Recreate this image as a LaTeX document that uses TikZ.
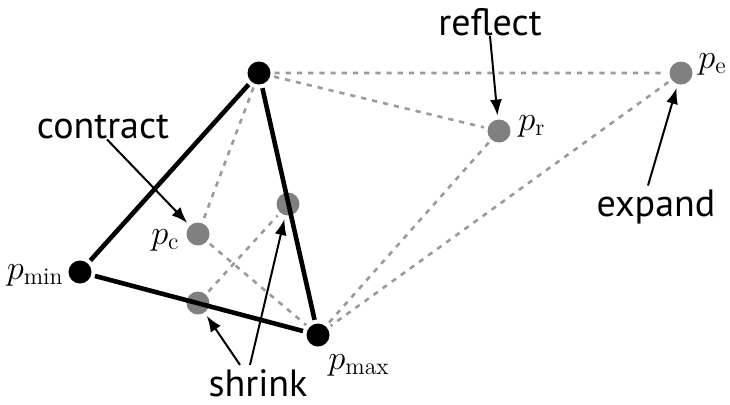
\documentclass[tikz,border=0pt]{standalone}
\usepackage{amsmath,amssymb}
\usepackage{fontspec}
\newfontfamily\opfont{PT Sans}
\usepackage{tikz}
\usetikzlibrary{arrows.meta,positioning}
\definecolor{ptgray}{RGB}{128,128,128}
\definecolor{dashgray}{RGB}{155,155,155}
\tikzset{
    % simplex vertices
    vertex/.style={
        circle, fill=black, minimum size=11.5pt, inner sep=0pt,
        outer sep=2pt
    },
    trialvertex/.style={vertex, fill=ptgray},
    % edges of the simplex
    simplexedge/.style={line width=2.3pt, black},
    trialedge/.style={line width=1.3pt, dashgray, dash pattern=on 2.6pt off 3pt},
    % operation names and arrows
    opname/.style={font=\opfont\fontsize{19}{22}\selectfont, inner sep=1pt},
    oparrow/.style={line width=1pt, -{Latex[length=8pt,width=6pt]}},
    ptlabel/.style={font=\fontsize{17}{20}\selectfont, inner sep=1pt},
}
\begin{document}
\begin{tikzpicture}[x=0.5pt,y=-0.5pt]
  \useasboundingbox (0,0) rectangle (730,404);
  % simplex
  \node[vertex] (ptop) at (259,73) {};
  \node[vertex] (pmin) at (80,272) {};
  \node[vertex] (pmax) at (318,335) {};
  % trial points
  \node[trialvertex] (pc) at (198,234) {};
  \node[trialvertex] (sa) at (198,303) {};
  \node[trialvertex] (sb) at (288,204) {};
  \node[trialvertex] (pr) at (499,131) {};
  \node[trialvertex] (pe) at (681,73) {};
  % dashed trial simplices
  \draw[trialedge] (ptop) -- (pe) -- (pmax);
  \draw[trialedge] (ptop) -- (pr) -- (pmax);
  \draw[trialedge] (ptop) -- (pc) -- (pmax);
  \draw[trialedge] (sa) -- (sb);
  % current simplex
  \draw[simplexedge] (pmin) -- (ptop) -- (pmax) -- (pmin);
  % point labels
  \node[ptlabel, anchor=east] at (66,275) {$p_{\mathrm{min}}$};
  \node[ptlabel, anchor=east] at (182,240) {$p_{\mathrm{c}}$};
  \node[ptlabel, anchor=north west] at (326,352) {$p_{\mathrm{max}}$};
  \node[ptlabel, anchor=west] at (516,126) {$p_{\mathrm{r}}$};
  \node[ptlabel, anchor=west] at (696,64) {$p_{\mathrm{e}}$};
  % operations
  \node[opname] (reflect) at (490,22) {reflect};
  \node[opname] (contract) at (103,127) {contract};
  \node[opname] (expand) at (656,207) {expand};
  \node[opname] (shrink) at (258,383) {shrink};
  \draw[oparrow] (reflect.south) ++(0,-2) -- (pr);
  \draw[oparrow] (contract.south) ++(4,-2) -- (pc);
  \draw[oparrow] (expand.north) ++(-8,-2) -- (pe);
  \draw[oparrow] (shrink.north) ++(-18,-2) -- (sa);
  \draw[oparrow] (shrink.north) ++(-8,-2) -- (sb);
\end{tikzpicture}
\end{document}
